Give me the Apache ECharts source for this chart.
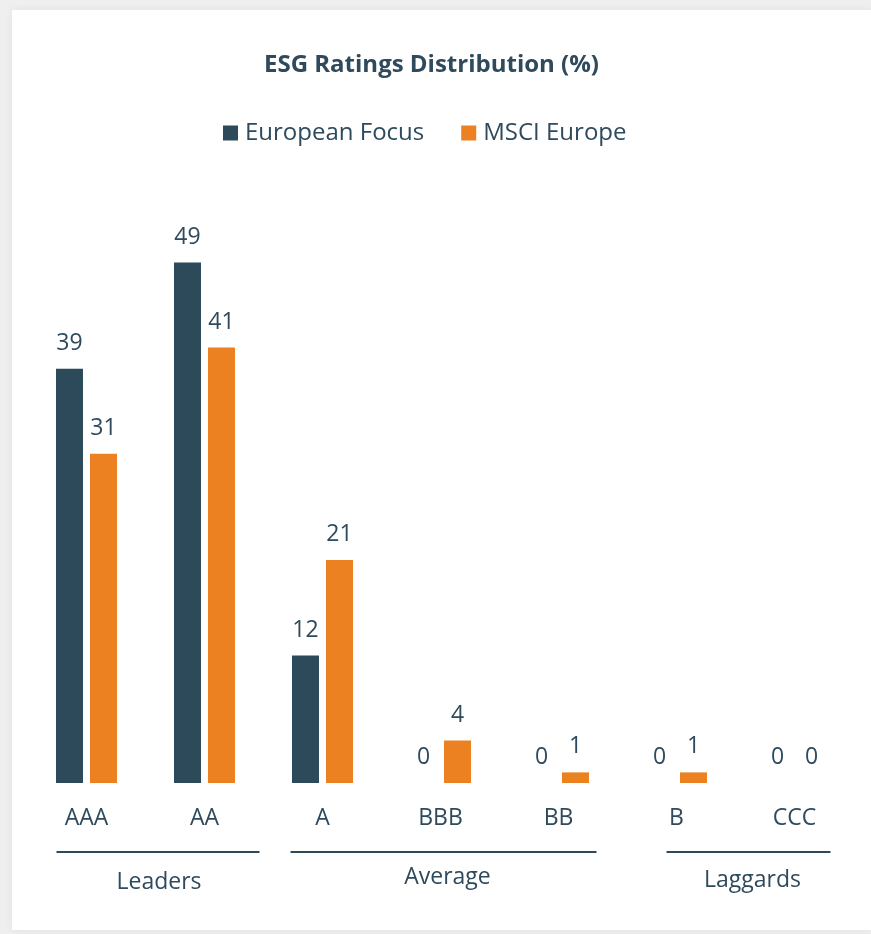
<!DOCTYPE html>
<html>
<head>
<meta charset="utf-8">
<script src="https://cdn.jsdelivr.net/npm/echarts@6/dist/echarts.min.js"></script>
<style>
  html, body { margin: 0; padding: 0; width: 871px; height: 934px; background: #efefef; overflow: hidden; }
  #card { position: absolute; left: 12px; top: 10px; width: 859px; height: 920px; background: #fff; box-shadow: 0 0 8px rgba(0,0,0,0.06); }
  #chart { position: absolute; left: 0; top: 0; width: 871px; height: 934px; }
</style>
</head>
<body>
<div id="card"></div>
<div id="chart"></div>
<script>
const categories = ['AAA', 'AA', 'A', 'BBB', 'BB', 'B', 'CCC'];
const europeanFocus = [39, 49, 12, 0, 0, 0, 0];
const msciEurope = [31, 41, 21, 4, 1, 1, 0];
const groups = [
  { name: 'Leaders', from: 0, to: 1 },
  { name: 'Average', from: 2, to: 4 },
  { name: 'Laggards', from: 5, to: 6 }
];

const DARK = '#2d4a5b';
const ORANGE = '#eb8121';
const TEXT = '#2e4a5c';
const FONT = '"Open Sans", "Noto Sans", sans-serif';

const chart = echarts.init(document.getElementById('chart'), null, { renderer: 'canvas' });

const labelStyle = {
  show: true, position: 'top', distance: 14,
  color: TEXT, fontSize: 23, fontFamily: FONT
};

const option = {
  backgroundColor: 'transparent',
  animation: false,
  title: {
    text: 'ESG Ratings Distribution (%)',
    left: 259, top: 48,
    textStyle: { color: TEXT, fontSize: 24, fontWeight: 'bold', fontFamily: FONT }
  },
  legend: {
    top: 116, left: 218,
    itemWidth: 15, itemHeight: 15, itemGap: 37,
    icon: 'rect',
    textStyle: { color: TEXT, fontSize: 24, fontFamily: FONT, padding: [0, 0, 0, 2] },
    data: ['European Focus', 'MSCI Europe']
  },
  grid: { left: 27.5, right: 17.5, top: 252, bottom: 151, containLabel: false },
  xAxis: {
    type: 'category', data: categories,
    axisLine: { show: false }, axisTick: { show: false },
    axisLabel: { color: TEXT, fontSize: 23, fontFamily: FONT, margin: 24 }
  },
  yAxis: {
    type: 'value', min: 0, max: 50, show: false,
    splitLine: { show: false }
  },
  series: [
    {
      name: 'European Focus', type: 'bar', data: europeanFocus,
      barWidth: 27, barGap: '26%',
      itemStyle: { color: DARK },
      label: labelStyle
    },
    {
      name: 'MSCI Europe', type: 'bar', data: msciEurope,
      barWidth: 27,
      itemStyle: { color: ORANGE },
      label: labelStyle
    }
  ]
};
chart.setOption(option);

// Group lines and labels placed from the category scale
const lineOffsets = [[-30, 55], [-32, 38], [-10, 36]];
const labelDy = [882, 877, 880];
const lineY = 852;
const graphics = [];
groups.forEach((g, i) => {
  const x1 = chart.convertToPixel({ xAxisIndex: 0 }, categories[g.from]) + lineOffsets[i][0];
  const x2 = chart.convertToPixel({ xAxisIndex: 0 }, categories[g.to]) + lineOffsets[i][1];
  graphics.push({
    type: 'line', silent: true,
    shape: { x1: x1, y1: lineY, x2: x2, y2: lineY },
    style: { stroke: DARK, lineWidth: 2 }
  });
  graphics.push({
    type: 'text', silent: true,
    x: (x1 + x2) / 2 + (i === 0 ? 1 : 4), y: labelDy[i],
    style: {
      text: g.name, fill: TEXT, font: '23px ' + FONT,
      align: 'center', verticalAlign: 'middle'
    }
  });
});
chart.setOption({ graphic: graphics });
</script>
</body>
</html>
